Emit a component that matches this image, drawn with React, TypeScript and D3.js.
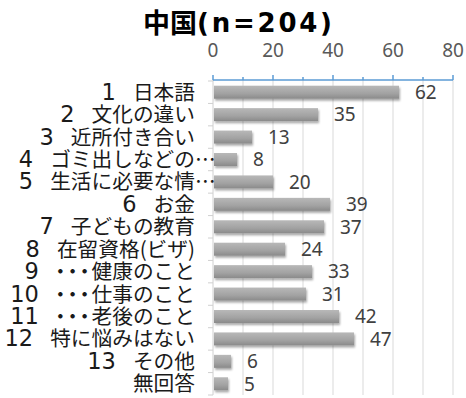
import React from "react";
import * as d3 from "d3";

const categories = [
  "1  日本語",
  "2  文化の違い",
  "3  近所付き合い",
  "4  ゴミ出しなどの",
  "5  生活に必要な情",
  "6  お金",
  "7  子どもの教育",
  "8  在留資格(ビザ)",
  "9  ・・・健康のこと",
  "10  ・・・仕事のこと",
  "11  ・・・老後のこと",
  "12  特に悩みはない",
  "13  その他",
  "無回答",
];
const truncated = [false, false, false, true, true, false, false, false, false, false, false, false, false, false];
const values = [62, 35, 13, 8, 20, 39, 37, 24, 33, 31, 42, 47, 6, 5];
const majorTicks = [0, 20, 40, 60, 80];
const gridTicks = [10, 20, 30, 40, 50, 60, 70, 80];
const minorTicks = [10, 30, 50, 70];
const titleMain = "中国";
const titleSub = "(n=204)";

function CatLabel({ c, x, y, trunc }: { c: string; x: number; y: number; trunc: boolean }) {
  const m = c.match(/^(\S+)\s+(.*)$/);
  const fs = 20.7;
  const numFont = "'DejaVu Sans', sans-serif";
  let content: React.ReactNode;
  if (!m) {
    content = c;
  } else {
    const num = m[1];
    const rest = m[2];
    if (rest.startsWith("・・・")) {
      content = (
        <>
          <tspan fontFamily={numFont} fontSize={22.5}>{num}</tspan>
          <tspan dx={11}>{"・"}</tspan>
          <tspan dx={-8.5}>{"・"}</tspan>
          <tspan dx={-8.5}>{"・"}</tspan>
          <tspan dx={-3.5}>{rest.slice(3)}</tspan>
        </>
      );
    } else {
      content = (
        <>
          <tspan fontFamily={numFont} fontSize={22.5}>{num}</tspan>
          <tspan dx={17}>{rest}</tspan>
        </>
      );
    }
  }
  return (
    <g>
      <text x={x} y={y} dy="0.36em" textAnchor="end" fontSize={fs} fill="#1a1a1a">{content}</text>
      {trunc && <text x={x} y={y} dy="0.36em" fontSize={fs} fill="#1a1a1a">…</text>}
    </g>
  );
}

export default function App() {
  const W = 466, H = 398;
  const x = d3.scaleLinear().domain([0, 80]).range([213, 453]);
  const y = d3.scaleBand<number>().domain(d3.range(categories.length)).range([81, 395]).paddingInner(0.42).paddingOuter(0.21);
  const step = y.step();
  const font = "'Noto Sans CJK JP', 'Noto Sans', sans-serif";
  const axisY = 80;
  return (
    <svg width={W} height={H} style={{ position: "absolute", left: 0, top: 0 }} fontFamily={font}>
      <defs>
        <linearGradient id="barg" x1="0" y1="0" x2="0" y2="1">
          <stop offset="0" stopColor="#b8b8b8" />
          <stop offset="0.6" stopColor="#a2a2a2" />
          <stop offset="1" stopColor="#8a8a8a" />
        </linearGradient>
        <filter id="sh" x="-10%" y="-30%" width="130%" height="190%">
          <feDropShadow dx="1" dy="2" stdDeviation="1.3" floodColor="#000" floodOpacity="0.35" />
        </filter>
      </defs>
      <rect width={W} height={H} fill="#fff" />
      <text x={143} y={33} fontSize={27} fontWeight="bold" fill="#000">{titleMain}</text>
      <text x={197} y={32} fontSize={26} fontWeight="bold" fill="#000" fontFamily="'DejaVu Sans', sans-serif" textLength={135} lengthAdjust="spacing">{titleSub}</text>
      {gridTicks.map((t) => (
        <line key={"g" + t} x1={x(t)} x2={x(t)} y1={axisY} y2={395} stroke="#d9d9d9" strokeWidth={1} />
      ))}
      <line x1={x(0)} x2={x(0)} y1={axisY} y2={395} stroke="#d0d0d0" strokeWidth={1} />
      {d3.range(categories.length + 1).map((i) => (
        <line key={"ct" + i} x1={x(0) - 5} x2={x(0)} y1={81 + i * step} y2={81 + i * step} stroke="#d0d0d0" strokeWidth={1} />
      ))}
      <line x1={x(0)} x2={x(80)} y1={axisY} y2={axisY} stroke="#5b9bd5" strokeWidth={1.5} />
      {majorTicks.map((t) => (
        <line key={"mt" + t} x1={x(t)} x2={x(t)} y1={axisY - 5} y2={axisY} stroke="#5b9bd5" strokeWidth={1.5} />
      ))}
      {minorTicks.map((t) => (
        <line key={"nt" + t} x1={x(t)} x2={x(t)} y1={axisY - 3} y2={axisY} stroke="#5b9bd5" strokeWidth={1.5} />
      ))}
      {majorTicks.map((t) => (
        <text key={"tl" + t} x={x(t)} y={57} textAnchor="middle" fontSize={19} fill="#595959" fontFamily="'Noto Sans', sans-serif">{t}</text>
      ))}
      {values.map((v, i) => (
        <rect key={"b" + i} x={x(0) + 1} y={y(i)!} width={x(v) - x(0) - 1} height={y.bandwidth()} fill="url(#barg)" filter="url(#sh)" />
      ))}
      {values.map((v, i) => (
        <text key={"v" + i} x={x(v) + 16} y={y(i)! + y.bandwidth() / 2} dy="0.36em" fontSize={19} fill="#404040" fontFamily="'Noto Sans', sans-serif">{v}</text>
      ))}
      {categories.map((c, i) => (
        <CatLabel key={"c" + i} c={c} x={195} y={y(i)! + y.bandwidth() / 2} trunc={truncated[i]} />
      ))}
    </svg>
  );
}
